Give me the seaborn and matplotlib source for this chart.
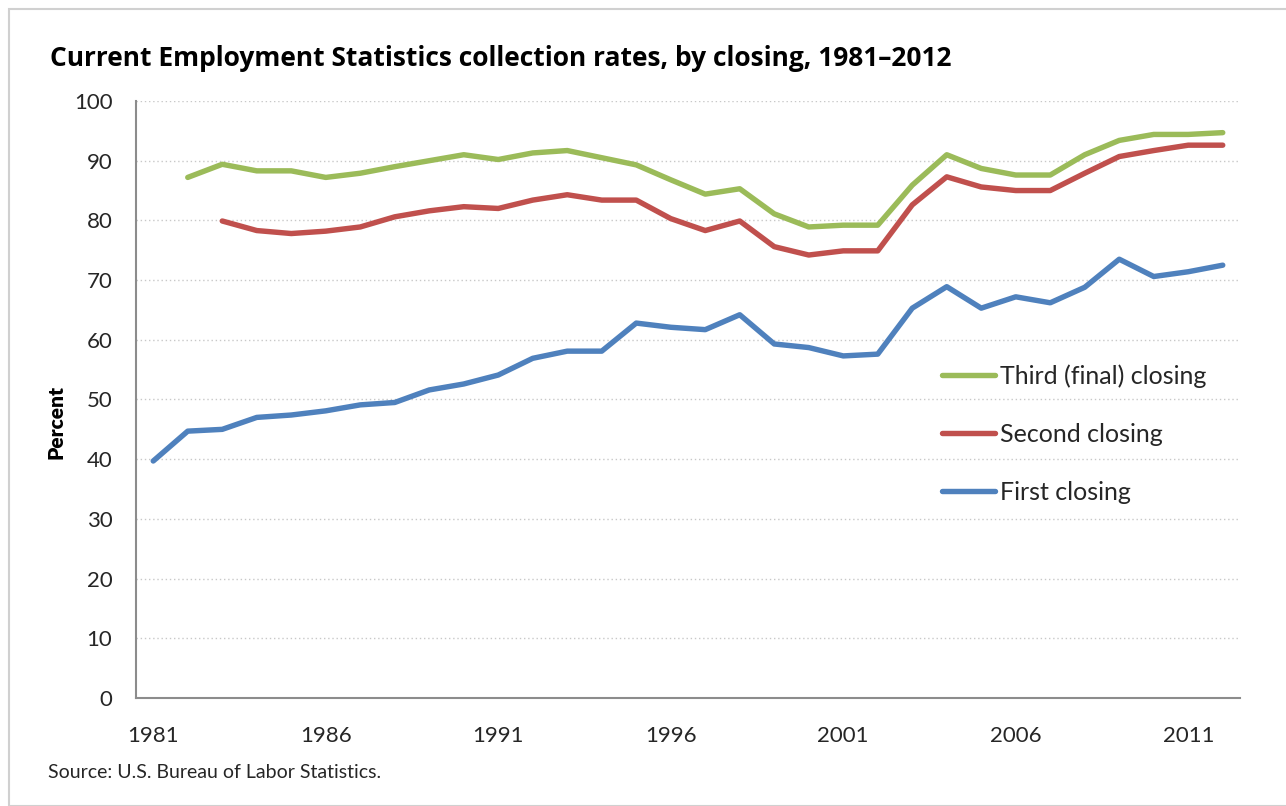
import matplotlib
matplotlib.use("Agg")
import matplotlib.pyplot as plt
import matplotlib.patches as mpatches
from matplotlib.ticker import FixedLocator
import numpy as np
import pandas as pd
import seaborn as sns

years = list(range(1981, 2013))

first_closing = [39.7, 44.7, 45.0, 47.0, 47.4, 48.1, 49.1, 49.5, 51.6, 52.6,
                 54.1, 56.9, 58.1, 58.1, 62.8, 62.1, 61.7, 64.2, 59.3, 58.7,
                 57.3, 57.6, 65.3, 68.9, 65.3, 67.2, 66.2, 68.8, 73.5, 70.6,
                 71.4, 72.5]
second_closing = [None, None, 79.9, 78.3, 77.8, 78.2, 78.9, 80.6, 81.6, 82.3,
                  82.0, 83.4, 84.3, 83.4, 83.4, 80.3, 78.3, 79.9, 75.6, 74.2,
                  74.9, 74.9, 82.6, 87.3, 85.6, 85.0, 85.0, 87.9, 90.7, 91.7,
                  92.6, 92.6]
third_closing = [None, 87.2, 89.4, 88.3, 88.3, 87.2, 87.9, 89.0, 90.0, 91.0,
                 90.2, 91.3, 91.7, 90.5, 89.3, 86.8, 84.4, 85.3, 81.1, 78.9,
                 79.2, 79.2, 85.9, 91.0, 88.7, 87.6, 87.6, 91.0, 93.4, 94.4,
                 94.4, 94.7]

series_names = ["Third (final) closing", "Second closing", "First closing"]
series_values = [third_closing, second_closing, first_closing]
colors = ["#9BBB59", "#C0504D", "#4F81BD"]

rows = []
for name, vals in zip(series_names, series_values):
    for y, v in zip(years, vals):
        if v is not None:
            rows.append({"Year": y, "Percent": v, "Series": name})
df = pd.DataFrame(rows)

sns.set_theme(style="white")
plt.rcParams["font.family"] = ["Lato", "DejaVu Sans"]

fig = plt.figure(figsize=(12.86, 8.06), dpi=100)
ax = fig.add_axes([136 / 1286, 1 - 698 / 806, (1240 - 136) / 1286, (698 - 101) / 806])

sns.lineplot(data=df, x="Year", y="Percent", hue="Series",
             hue_order=series_names, palette=dict(zip(series_names, colors)),
             linewidth=3.9, ax=ax, legend=False)

ax.set_xlim(1980.5, 2012.5)
ax.set_ylim(0, 100)
ax.set_yticks(range(0, 101, 10))
ax.set_xticks(list(range(1981, 2013, 5)))
ax.xaxis.set_minor_locator(FixedLocator(np.arange(1980.5, 2013, 1.0)))
ax.tick_params(axis="x", which="major", length=0, pad=20, labelsize=16, colors="#262626")
ax.tick_params(axis="x", which="minor", length=6, width=1.5, color="#8C8C8C", direction="out")
ax.tick_params(axis="y", length=0, pad=17, labelsize=16, colors="#262626")
ax.grid(axis="y", linestyle=(0, (1, 2)), color="#C8C8C8", linewidth=1.0)
ax.set_axisbelow(True)
for s in ["top", "right"]:
    ax.spines[s].set_visible(False)
for s in ["left", "bottom"]:
    ax.spines[s].set_color("#8C8C8C")
    ax.spines[s].set_linewidth(1.5)
ax.set_xlabel("")
ax.set_ylabel("Percent", fontsize=15, fontweight="heavy", color="black")
ax.yaxis.set_label_coords((65 - 136) / 1104, (698 - 422) / 597)

handles = [plt.Line2D([], [], color=c, linewidth=3.9) for c in colors]
leg = ax.legend(handles, series_names, loc="upper left",
                bbox_to_anchor=((942 - 136) / 1104, 1 - (364 - 101) / 597),
                frameon=False, fontsize=18, handlelength=2.1, handletextpad=0.2,
                labelspacing=1.4, borderaxespad=0, borderpad=0)
for t in leg.get_texts():
    t.set_color("#262626")

fig.text(50 / 1286, 1 - 58 / 806, "Current Employment Statistics collection rates, by closing, 1981\u20132012",
         fontsize=19.0, fontweight="bold", family=["Open Sans", "DejaVu Sans"],
         ha="left", va="center", color="black")
fig.text(48 / 1286, 1 - 773 / 806, "Source: U.S. Bureau of Labor Statistics.",
         fontsize=14, ha="left", va="center", color="#262626")

border = mpatches.Rectangle((9 / 1286, 0.0), 1.0, 1 - 9 / 806, transform=fig.transFigure,
                            fill=False, edgecolor="#D0D0D0", linewidth=1.5)
fig.patches.append(border)

fig.savefig("out.png", dpi=100)
